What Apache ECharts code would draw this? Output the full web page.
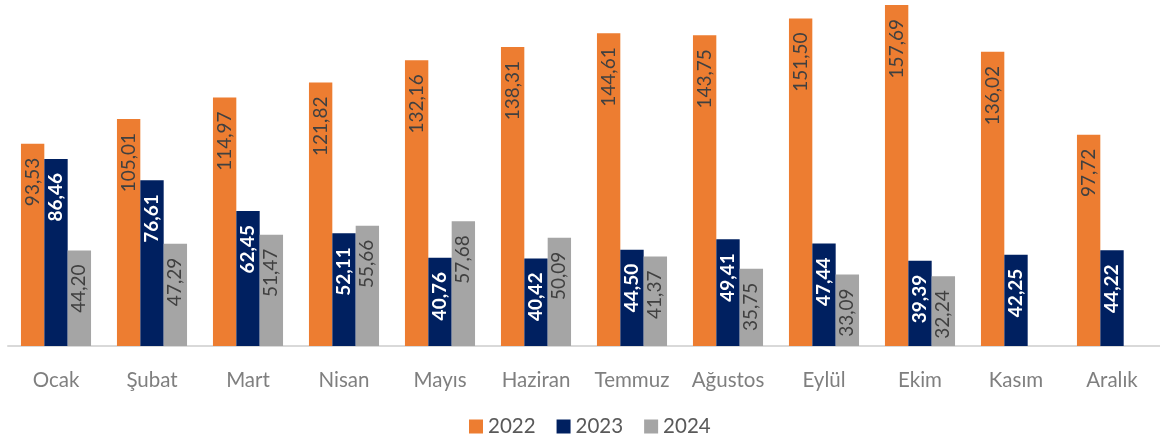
<!DOCTYPE html>
<html>
<head>
<meta charset="utf-8">
<script src="https://cdn.jsdelivr.net/npm/echarts@6/dist/echarts.min.js"></script>
<style>
  html, body { margin: 0; padding: 0; background: #fff; }
  #main { width: 1160px; height: 442px; }
</style>
</head>
<body>
<div id="main"></div>
<script>
// aylar
var months = ['Ocak', 'Şubat', 'Mart', 'Nisan', 'Mayıs', 'Haziran', 'Temmuz', 'Ağustos', 'Eylül', 'Ekim', 'Kasım', 'Aralık'];
var years = ['2022', '2023', '2024'];
var data2022 = [93.53, 105.01, 114.97, 121.82, 132.16, 138.31, 144.61, 143.75, 151.50, 157.69, 136.02, 97.72];
var data2023 = [86.46, 76.61, 62.45, 52.11, 40.76, 40.42, 44.50, 49.41, 47.44, 39.39, 42.25, 44.22];
var data2024 = [44.20, 47.29, 51.47, 55.66, 57.68, 50.09, 41.37, 35.75, 33.09, 32.24, null, null];

var font = 'Lato, "Open Sans", sans-serif';

function fmt(p) {
  if (p.value == null) return '';
  return p.value.toFixed(2).replace('.', ',');
}

function lbl(color, bold) {
  return {
    show: true,
    position: 'insideTop',
    rotate: 90,
    align: 'right',
    verticalAlign: 'middle',
    distance: 14,
    color: color,
    fontSize: 19,
    fontWeight: bold ? 'bold' : 'normal',
    fontFamily: font,
    formatter: fmt
  };
}

var myChart = echarts.init(document.getElementById('main'));
var option = {
  animation: false,
  grid: { left: 8, right: 0, top: 0, bottom: 96 },
  legend: {
    data: years,
    top: 416,
    left: 469,
    padding: 0,
    icon: 'rect',
    itemWidth: 14,
    itemHeight: 14,
    itemGap: 21,
    textStyle: { color: '#595959', fontSize: 20.5, fontFamily: font }
  },
  xAxis: {
    type: 'category',
    data: months,
    axisLine: { lineStyle: { color: '#d9d9d9', width: 2 } },
    axisTick: { show: false },
    axisLabel: { color: '#7f7f7f', fontSize: 20.5, fontFamily: font, margin: 24, interval: 0 }
  },
  yAxis: {
    type: 'value',
    min: 0,
    max: 160,
    show: false,
    splitLine: { show: false }
  },
  series: [
    {
      name: '2022', type: 'bar', data: data2022,
      barGap: '0%', barCategoryGap: '27%',
      itemStyle: { color: '#ED7D31' },
      label: lbl('#404040', false)
    },
    {
      name: '2023', type: 'bar', data: data2023,
      itemStyle: { color: '#002060' },
      label: lbl('#ffffff', true)
    },
    {
      name: '2024', type: 'bar', data: data2024,
      itemStyle: { color: '#A5A5A5' },
      label: lbl('#404040', false)
    }
  ]
};
myChart.setOption(option);
</script>
</body>
</html>
